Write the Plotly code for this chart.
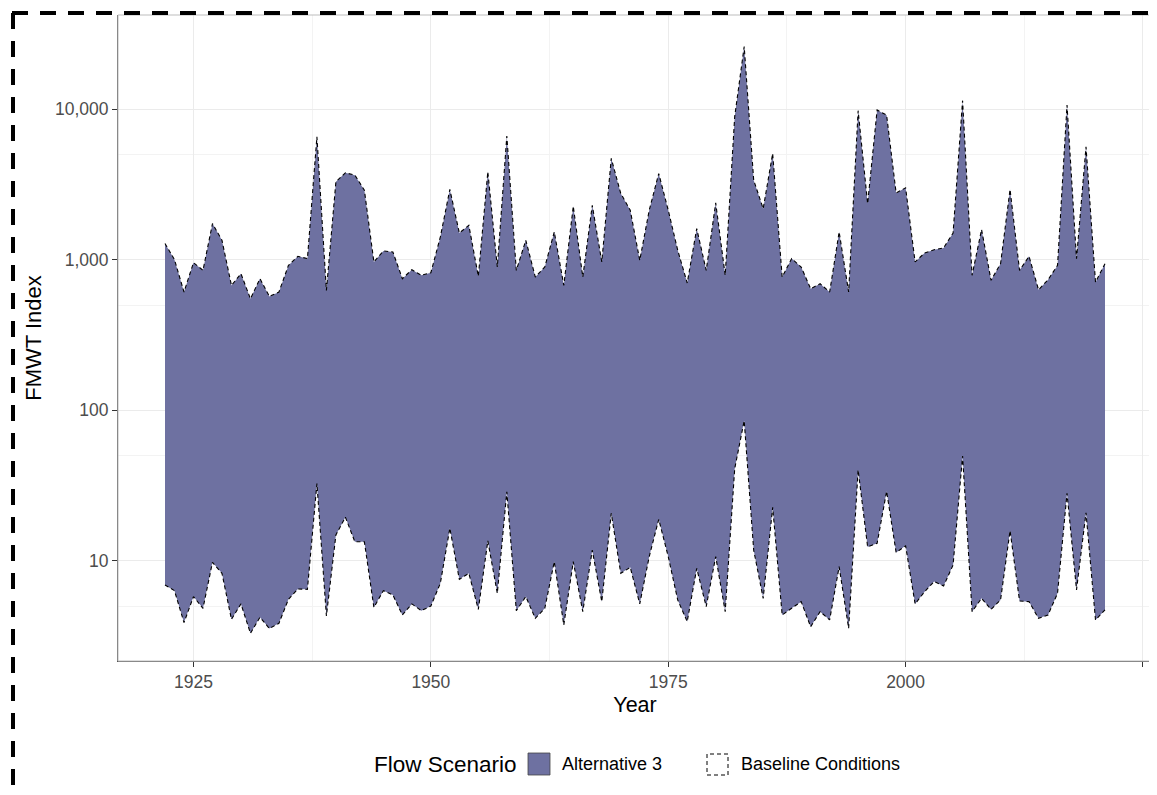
import plotly.graph_objects as go

years = list(range(1922, 2022))

alt_upper = [
    1280, 1000, 610, 955, 850, 1735, 1345, 675, 807, 550,
    748, 570, 610, 916, 1052, 1016, 6550, 625, 3290, 3770,
    3640, 2890, 966, 1143, 1125, 748, 858, 787, 819, 1415,
    2925, 1503, 1690, 775, 3830, 894, 6610, 849, 1345, 767,
    894, 1528, 675, 2265, 767, 2297, 966, 4700, 2750, 2130,
    990, 2130, 3730, 2130, 1154, 700, 1607, 849, 2380, 787,
    8900, 26000, 3370, 2180, 5070, 767, 1016, 894, 641, 692,
    610, 1528, 610, 9750, 2355, 9850, 9100, 2775, 2997, 966,
    1107, 1165, 1197, 1503, 11360, 787, 1585, 729, 940, 2925,
    849, 1052, 631, 736, 916, 10630, 1016, 5610, 709, 940,
]

alt_lower = [
    6.93, 6.35, 3.9, 5.8, 4.85, 9.8, 8.28, 4.1, 5.19, 3.31,
    4.23, 3.56, 3.86, 5.57, 6.52, 6.48, 32.7, 4.31, 14.9, 19.5,
    13.4, 13.4, 4.92, 6.35, 5.95, 4.38, 5.19, 4.68, 5.02, 7.11,
    16.5, 7.55, 8.28, 4.77, 13.6, 6.1, 28.8, 4.68, 5.8, 4.16,
    4.85, 9.9, 3.76, 9.9, 4.61, 11.8, 5.37, 20.7, 8.28, 9.07,
    5.19, 10.7, 18.9, 10.7, 5.51, 3.96, 8.93, 4.98, 10.7, 4.61,
    41, 85.3, 11.8, 5.65, 22.7, 4.38, 4.85, 5.37, 3.66, 4.61,
    4.06, 9.17, 3.57, 40.2, 12.4, 13.1, 29, 11.4, 12.6, 5.19,
    6.25, 7.3, 6.82, 9.4, 49.8, 4.61, 5.65, 4.77, 5.51, 15.9,
    5.43, 5.37, 4.16, 4.38, 6.1, 28.1, 6.43, 20.9, 4.06, 4.73,
]

# baseline run sits right on the edges of alternative 3
base_upper = list(alt_upper)
base_lower = list(alt_lower)

y_tickvals = [10, 100, 1000, 10000]
y_ticktext = ["10", "100", "1,000", "10,000"]
x_tickvals = [1925, 1950, 1975, 2000, 2025]

FILL = "#6E71A1"
FONT = "Liberation Sans, Arial, sans-serif"

# page body has an 8px margin, so the figure is sized/offset to fit the window
OFF = 8
L, T, R, B = 118, 15, 1152, 661  # plot area in page pixels


def px(x):
    return (x - L) / (R - L)


def py(y):
    return (B - y) / (B - T)


fig = go.Figure()

fig.add_trace(go.Scatter(
    x=years, y=alt_lower, mode="lines",
    line=dict(width=0, color=FILL), showlegend=False, hoverinfo="skip",
))
fig.add_trace(go.Scatter(
    x=years, y=alt_upper, mode="lines", fill="tonexty",
    fillcolor=FILL, line=dict(width=0, color=FILL),
    name="Alternative 3", showlegend=False,
))
for vals in (base_upper, base_lower):
    fig.add_trace(go.Scatter(
        x=years, y=vals, mode="lines",
        line=dict(color="black", width=1.1, dash="4px,3px"),
        name="Baseline Conditions", showlegend=False,
    ))

shapes = [
    # panel border (light) on top/right
    dict(type="rect", xref="paper", yref="paper", x0=0, x1=1, y0=0, y1=1,
         line=dict(color="#BDBDBD", width=1), layer="above"),
    # outer dashed frame
    dict(type="line", xref="paper", yref="paper", x0=px(12), x1=px(1170),
         y0=py(13), y1=py(13), line=dict(color="black", width=4, dash="16px,12px")),
    dict(type="line", xref="paper", yref="paper", x0=px(13), x1=px(13),
         y0=py(13), y1=py(810), line=dict(color="black", width=4, dash="16px,12px")),
    # legend keys
    dict(type="rect", xref="paper", yref="paper", x0=px(528), x1=px(550),
         y0=py(775), y1=py(753), fillcolor=FILL, line=dict(color="#444", width=0.8)),
    dict(type="rect", xref="paper", yref="paper", x0=px(707), x1=px(728),
         y0=py(775), y1=py(754), fillcolor="rgba(0,0,0,0)",
         line=dict(color="black", width=1, dash="4px,3px")),
]

annotations = [
    dict(text="Flow Scenario", xref="paper", yref="paper", x=px(372), y=py(764),
         xanchor="left", yanchor="middle", showarrow=False,
         font=dict(size=22.5, color="black", family=FONT)),
    dict(text="Alternative 3", xref="paper", yref="paper", x=px(560), y=py(764),
         xanchor="left", yanchor="middle", showarrow=False,
         font=dict(size=18, color="black", family=FONT)),
    dict(text="Baseline Conditions", xref="paper", yref="paper", x=px(739), y=py(764),
         xanchor="left", yanchor="middle", showarrow=False,
         font=dict(size=18, color="black", family=FONT)),
]

W, H = 1157 - OFF, 795 - OFF

fig.update_layout(
    width=W, height=H,
    margin=dict(l=L - OFF, r=W - (R - OFF), t=T - OFF, b=H - (B - OFF)),
    paper_bgcolor="white", plot_bgcolor="white",
    font=dict(family=FONT),
    showlegend=False,
    shapes=shapes,
    annotations=annotations,
    xaxis=dict(
        range=[1917.05, 2025.95],
        tickvals=x_tickvals,
        showgrid=True, gridcolor="#EBEBEB", gridwidth=1.2,
        minor=dict(tickvals=[1937.5, 1962.5, 1987.5, 2012.5], showgrid=True,
                   gridcolor="#F3F3F3", gridwidth=1),
        showline=True, linecolor="#555", linewidth=1,
        ticks="outside", ticklen=5, tickcolor="#333",
        tickfont=dict(size=17.5, color="#4D4D4D"),
        title=dict(text="Year", font=dict(size=21.5, color="black"), standoff=5),
        zeroline=False,
    ),
    yaxis=dict(
        type="log",
        range=[0.336, 4.624],
        tickvals=y_tickvals, ticktext=y_ticktext,
        showgrid=True, gridcolor="#EBEBEB", gridwidth=1.2,
        minor=dict(tickvals=[5, 50, 500, 5000], showgrid=True,
                   gridcolor="#F3F3F3", gridwidth=1),
        showline=True, linecolor="#555", linewidth=1,
        ticks="outside", ticklen=5, tickcolor="#333",
        tickfont=dict(size=17.5, color="#4D4D4D"),
        title=dict(text="FMWT Index", font=dict(size=22, color="black"), standoff=7),
        zeroline=False,
    ),
)

fig.write_html("out.html")
